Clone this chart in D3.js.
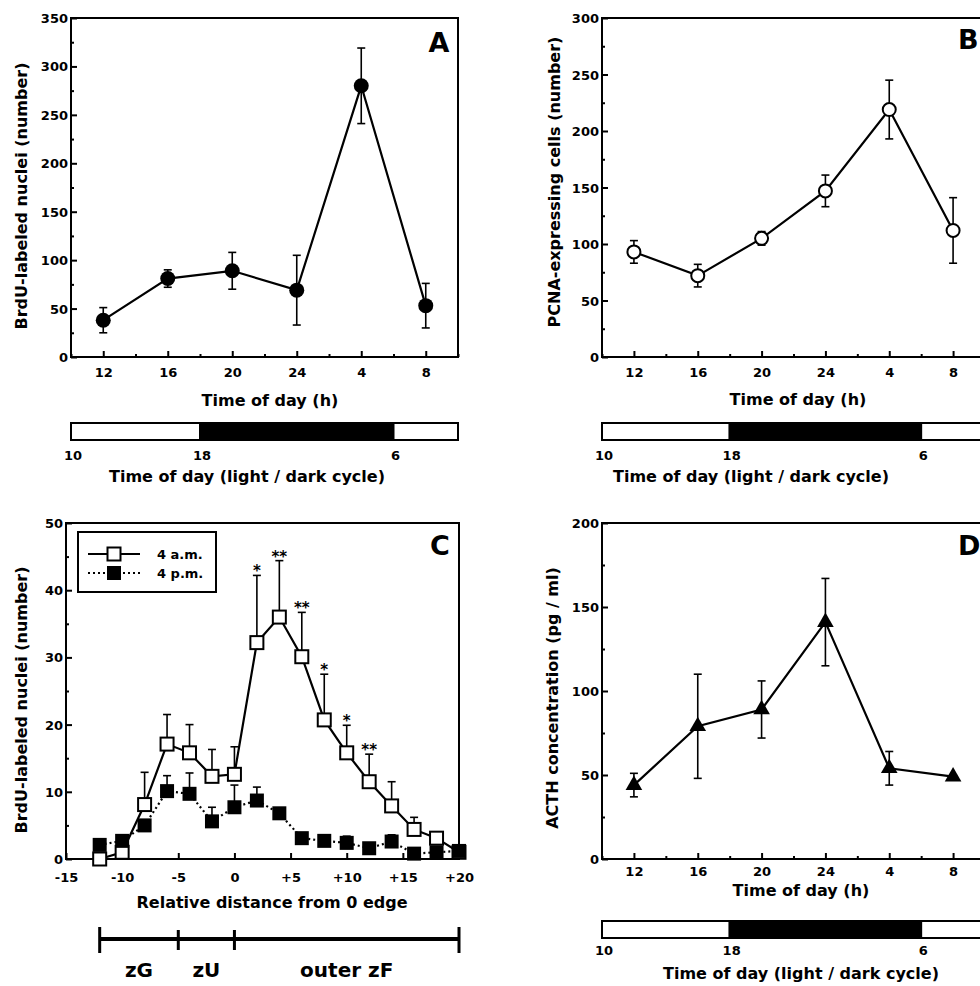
<!DOCTYPE html>
<html>
<head>
<meta charset="utf-8">
<script src="https://cdn.jsdelivr.net/npm/d3@7"></script>
<style>
    body { margin: 0; background: #fff; }
    svg { display: block; font-family: "DejaVu Sans", sans-serif; font-weight: bold; }
</style>
</head>
<body>
<svg id="chart" width="980" height="986"></svg>
<script>
/****** Data *******/
var hours = [12, 16, 20, 24, 28, 32];
var hourLabels = ["12", "16", "20", "24", "4", "8"];

// A: BrdU-labeled nuclei
var brdu = [38, 81, 89, 69, 280, 53];
var brduErr = [13, 9, 19, 36, 39, 23];

// B: PCNA-expressing cells
var pcna = [93, 72, 105, 147, 219, 112];
var pcnaErr = [10, 10, 6, 14, 26, 29];

// D: ACTH concentration
var acth = [44, 79, 89, 141, 54, 49];
var acthErr = [7, 31, 17, 26, 10, 0];

// C: distance profile
var dist = [-12, -10, -8, -6, -4, -2, 0, 2, 4, 6, 8, 10, 12, 14, 16, 18, 20];
var am = [0, 1, 8.1, 17.1, 15.8, 12.3, 12.6, 32.2, 36, 30.1, 20.7, 15.8, 11.5, 7.9, 4.4, 3.1, 1];
var amErr = [0, 0, 4.8, 4.4, 4.2, 4, 4.1, 10, 8.4, 6.6, 6.8, 4.1, 4.1, 3.6, 1.8, 0.5, 0];
var pm = [2.1, 2.7, 5, 10.1, 9.7, 5.6, 7.7, 8.7, 6.8, 3.1, 2.7, 2.4, 1.6, 2.6, 0.8, 1, 1.2];
var pmErr = [0, 0, 0, 2.3, 3.1, 2.1, 3.3, 2, 0.7, 0, 0, 1, 0, 1, 0, 0, 0];
var stars = ["", "", "", "", "", "", "", "*", "**", "**", "*", "*", "**", "", "", "", ""];
var distTicks = [-15, -10, -5, 0, 5, 10, 15, 20];

// light / dark cycle (hours, 34 = 10 next day)
var cycleStart = [10, 18, 30];
var cycleEnd = [18, 30, 34];
var cycleDark = [false, true, false];
var cycleTicks = [10, 18, 30];
var cycleLabels = ["10", "18", "6"];

// zones under C
var zoneEdges = [-12, -5, 0, 20];
var zoneNames = ["zG", "zU", "outer zF"];

var svg = d3.select("#chart");
svg.append("rect").attr("width", 980).attr("height", 986).attr("fill", "#fff");

/** Box + inward ticks **/
function drawFrame(x, y, yMajor, yMinor, xMajor, xFormat, xMinor, labelPad) {
    var g = svg.append("g");
    g.append("rect")
        .attr("x", x.range()[0]).attr("y", y.range()[1])
        .attr("width", x.range()[1] - x.range()[0])
        .attr("height", y.range()[0] - y.range()[1])
        .attr("fill", "none").attr("stroke", "#000").attr("stroke-width", 2);

    var yl = g.append("g")
        .attr("transform", "translate(" + x.range()[0] + ",0)")
        .call(d3.axisLeft(y).tickValues(yMajor).tickSize(-6).tickSizeOuter(0).tickPadding(3));
    var ym = g.append("g")
        .attr("transform", "translate(" + x.range()[0] + ",0)")
        .call(d3.axisLeft(y).tickValues(yMinor).tickSize(-3).tickSizeOuter(0).tickFormat(""));
    var xl = g.append("g")
        .attr("transform", "translate(0," + y.range()[0] + ")")
        .call(d3.axisBottom(x).tickValues(xMajor).tickFormat(xFormat).tickSize(-6).tickSizeOuter(0).tickPadding(labelPad));
    var xm = g.append("g")
        .attr("transform", "translate(0," + y.range()[0] + ")")
        .call(d3.axisBottom(x).tickValues(xMinor).tickSize(-3).tickSizeOuter(0).tickFormat(""));

    [yl, ym, xl, xm].forEach(function (a) {
        a.select(".domain").remove();
        a.selectAll("line").attr("stroke", "#000").attr("stroke-width", 2);
        a.selectAll("text")
            .attr("fill", "#000")
            .style("font-family", "DejaVu Sans")
            .style("font-weight", "bold")
            .style("font-size", "13px");
    });
    yl.selectAll("text").attr("dy", "0.35em");
    return g;
}

function addText(x, y, txt, size, anchor, rotate) {
    var t = svg.append("text")
        .attr("x", x).attr("y", y)
        .attr("font-size", size)
        .attr("text-anchor", anchor || "middle")
        .attr("fill", "#000")
        .text(txt);
    if (rotate) {
        t.attr("transform", "rotate(-90," + x + "," + y + ")");
    }
    return t;
}

/** Error bars (both ways, or up only) **/
function drawErr(x, y, xs, vals, errs, upOnly) {
    var g = svg.append("g").attr("stroke", "#000").attr("stroke-width", 1.6);
    xs.forEach(function (d, i) {
        if (!errs[i]) return;
        var top = y(vals[i] + errs[i]);
        var bot = upOnly ? y(vals[i]) : y(vals[i] - errs[i]);
        g.append("line").attr("x1", x(d)).attr("x2", x(d)).attr("y1", top).attr("y2", bot);
        g.append("line").attr("x1", x(d) - 4).attr("x2", x(d) + 4).attr("y1", top).attr("y2", top);
        if (!upOnly) {
            g.append("line").attr("x1", x(d) - 4).attr("x2", x(d) + 4).attr("y1", bot).attr("y2", bot);
        }
    });
}

function drawLine(x, y, xs, vals, dash) {
    var line = d3.line()
        .x(function (d, i) { return x(xs[i]); })
        .y(function (d) { return y(d); });
    svg.append("path")
        .datum(vals)
        .attr("fill", "none")
        .attr("stroke", "#000")
        .attr("stroke-width", 2.2)
        .attr("stroke-dasharray", dash || null)
        .attr("d", line);
}

/** Light / dark bar **/
function drawCycle(x, top, labelY, title, titleX, titleY) {
    var g = svg.append("g");
    cycleStart.forEach(function (s, i) {
        g.append("rect")
            .attr("x", x(s)).attr("y", top)
            .attr("width", x(cycleEnd[i]) - x(s)).attr("height", 17)
            .attr("fill", cycleDark[i] ? "#000" : "#fff")
            .attr("stroke", "#000").attr("stroke-width", 2);
    });
    cycleTicks.forEach(function (t, i) {
        addText(x(t) + 2, labelY, cycleLabels[i], 13);
    });
    addText(titleX, titleY, title, 16);
}

var hourFmt = function (d, i) { return hourLabels[i]; };
var hourMinor = [10, 14, 18, 22, 26, 30, 34];

/****** Panel A *******/
var xA = d3.scaleLinear().domain([10, 34]).range([71, 458]);
var yA = d3.scaleLinear().domain([0, 350]).range([357, 18]);
drawFrame(xA, yA, d3.range(0, 351, 50), d3.range(25, 350, 50), hours, hourFmt, hourMinor, 11);
drawErr(xA, yA, hours, brdu, brduErr);
drawLine(xA, yA, hours, brdu);
svg.append("g").selectAll("circle")
    .data(brdu).enter().append("circle")
    .attr("cx", function (d, i) { return xA(hours[i]); })
    .attr("cy", function (d) { return yA(d); })
    .attr("r", 7.5)
    .attr("fill", "#000");
addText(439, 52, "A", 27);
addText(27, 196, "BrdU-labeled nuclei (number)", 16, "middle", true);
addText(270, 406, "Time of day (h)", 16);
drawCycle(xA, 423, 460, "Time of day (light / dark cycle)", 247, 482);

/****** Panel B *******/
var xB = d3.scaleLinear().domain([10, 34]).range([602, 985]);
var yB = d3.scaleLinear().domain([0, 300]).range([357, 18]);
drawFrame(xB, yB, d3.range(0, 301, 50), d3.range(25, 300, 50), hours, hourFmt, hourMinor, 11);
drawErr(xB, yB, hours, pcna, pcnaErr);
drawLine(xB, yB, hours, pcna);
svg.append("g").selectAll("circle")
    .data(pcna).enter().append("circle")
    .attr("cx", function (d, i) { return xB(hours[i]); })
    .attr("cy", function (d) { return yB(d); })
    .attr("r", 6.5)
    .attr("fill", "#fff")
    .attr("stroke", "#000")
    .attr("stroke-width", 2);
addText(958, 49, "B", 27, "start");
addText(560, 182, "PCNA-expressing cells (number)", 16, "middle", true);
addText(798, 405, "Time of day (h)", 16);
drawCycle(xB, 423, 460, "Time of day (light / dark cycle)", 751, 482);

/****** Panel C *******/
var xC = d3.scaleLinear().domain([-15, 20]).range([66, 459]);
var yC = d3.scaleLinear().domain([0, 50]).range([859, 523]);
drawFrame(xC, yC, d3.range(0, 51, 10), d3.range(5, 50, 10), distTicks,
    function (d) { return d > 0 ? "+" + d : d; }, [], 14);
drawErr(xC, yC, dist, am, amErr, true);
drawLine(xC, yC, dist, am);
svg.append("g").selectAll("rect")
    .data(am).enter().append("rect")
    .attr("x", function (d, i) { return xC(dist[i]) - 6.5; })
    .attr("y", function (d) { return yC(d) - 6.5; })
    .attr("width", 13).attr("height", 13)
    .attr("fill", "#fff").attr("stroke", "#000").attr("stroke-width", 2);
drawErr(xC, yC, dist, pm, pmErr, true);
drawLine(xC, yC, dist, pm, "2,3");
svg.append("g").selectAll("rect")
    .data(pm).enter().append("rect")
    .attr("x", function (d, i) { return xC(dist[i]) - 7; })
    .attr("y", function (d) { return yC(d) - 7; })
    .attr("width", 14).attr("height", 14)
    .attr("fill", "#000");
// significance marks
svg.append("g").selectAll("text")
    .data(stars).enter().append("text")
    .attr("x", function (d, i) { return xC(dist[i]); })
    .attr("y", function (d, i) { return yC(am[i] + amErr[i]) + 1; })
    .attr("text-anchor", "middle")
    .attr("font-size", 15)
    .text(function (d) { return d; });

// legend
svg.append("rect")
    .attr("x", 78).attr("y", 532).attr("width", 138).attr("height", 60)
    .attr("fill", "#fff").attr("stroke", "#000").attr("stroke-width", 2);
svg.append("line").attr("x1", 88).attr("x2", 140).attr("y1", 554).attr("y2", 554)
    .attr("stroke", "#000").attr("stroke-width", 2);
svg.append("rect").attr("x", 107.5).attr("y", 547.5).attr("width", 13).attr("height", 13)
    .attr("fill", "#fff").attr("stroke", "#000").attr("stroke-width", 2);
svg.append("line").attr("x1", 88).attr("x2", 140).attr("y1", 573).attr("y2", 573)
    .attr("stroke", "#000").attr("stroke-width", 2).attr("stroke-dasharray", "2,3");
svg.append("rect").attr("x", 107).attr("y", 566).attr("width", 14).attr("height", 14)
    .attr("fill", "#000");
addText(157, 559, "4 a.m.", 13, "start");
addText(157, 578, "4 p.m.", 13, "start");

addText(430, 555, "C", 27, "start");
addText(27, 700, "BrdU-labeled nuclei (number)", 16, "middle", true);
addText(272, 908, "Relative distance from 0 edge", 16);

// zone bar
svg.append("line")
    .attr("x1", xC(zoneEdges[0])).attr("x2", xC(zoneEdges[3]))
    .attr("y1", 939).attr("y2", 939)
    .attr("stroke", "#000").attr("stroke-width", 4);
svg.append("g").selectAll("line")
    .data(zoneEdges).enter().append("line")
    .attr("x1", function (d) { return xC(d); })
    .attr("x2", function (d) { return xC(d); })
    .attr("y1", function (d, i) { return (i === 0 || i === 3) ? 927 : 930; })
    .attr("y2", function (d, i) { return (i === 0 || i === 3) ? 953 : 950; })
    .attr("stroke", "#000").attr("stroke-width", 3);
zoneNames.forEach(function (n, i) {
    var mid = (xC(zoneEdges[i]) + xC(zoneEdges[i + 1])) / 2;
    addText(mid, 977, n, 20);
});

/****** Panel D *******/
var xD = d3.scaleLinear().domain([10, 34]).range([602, 985]);
var yD = d3.scaleLinear().domain([0, 200]).range([859, 523]);
drawFrame(xD, yD, d3.range(0, 201, 50), d3.range(25, 200, 50), hours, hourFmt, hourMinor, 8);
drawErr(xD, yD, hours, acth, acthErr);
drawLine(xD, yD, hours, acth);
svg.append("g").selectAll("path.tri")
    .data(acth).enter().append("path")
    .attr("class", "tri")
    .attr("transform", function (d, i) { return "translate(" + xD(hours[i]) + "," + yD(d) + ")"; })
    .attr("d", d3.symbol().type(d3.symbolTriangle).size(120))
    .attr("fill", "#000");
addText(958, 555, "D", 27, "start");
addText(558, 698, "ACTH concentration (pg / ml)", 16, "middle", true);
addText(801, 896, "Time of day (h)", 16);
drawCycle(xD, 921, 955, "Time of day (light / dark cycle)", 801, 979);
</script>
</body>
</html>
